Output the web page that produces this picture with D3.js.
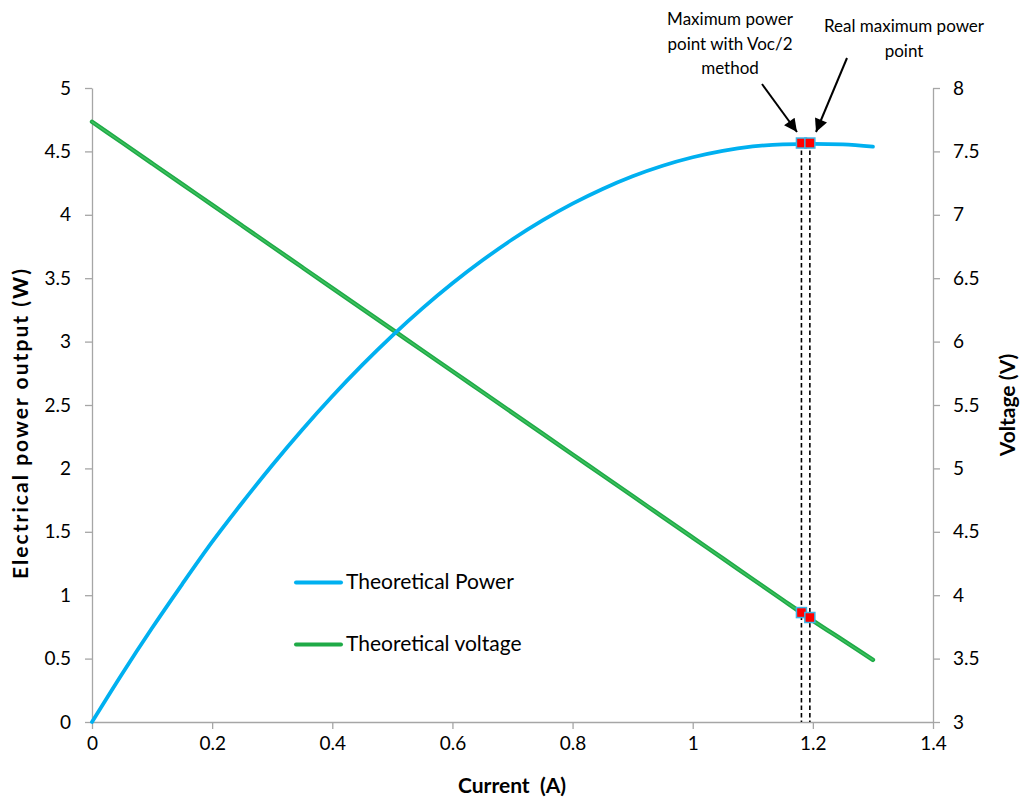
<!DOCTYPE html>
<html>
<head>
<meta charset="utf-8">
<script src="https://cdn.jsdelivr.net/npm/d3@7"></script>
<style>
  html, body { margin: 0; padding: 0; background: #fff; }
  svg { display: block; font-family: Lato, "Open Sans", sans-serif; }
</style>
</head>
<body>
<svg id="chart" width="1022" height="801"></svg>
<script>
// Current (A) sampled along the curve
const current = [0, 0.05, 0.1, 0.15, 0.2, 0.25, 0.3, 0.35, 0.4, 0.45, 0.5, 0.55, 0.6, 0.65,
  0.7, 0.75, 0.8, 0.85, 0.9, 0.95, 1.0, 1.05, 1.1, 1.15, 1.2, 1.25, 1.3];
// Theoretical voltage (V), right axis
const voltage = [7.734, 7.570, 7.406, 7.242, 7.078, 6.914, 6.750, 6.586, 6.422, 6.258, 6.094,
  5.930, 5.766, 5.602, 5.438, 5.274, 5.110, 4.946, 4.782, 4.618, 4.454, 4.290, 4.126, 3.962,
  3.800, 3.645, 3.490];
// Theoretical electrical power (W), left axis
const power = [0, 0.379, 0.741, 1.086, 1.420, 1.729, 2.025, 2.305, 2.569, 2.816, 3.047,
  3.262, 3.460, 3.641, 3.807, 3.956, 4.088, 4.204, 4.304, 4.387, 4.454, 4.505, 4.539, 4.556,
  4.560, 4.556, 4.537];

// Operating points: Voc/2 method and real maximum power point
const mppCurrent = [1.181, 1.195];
const mppPower = [4.566, 4.566];
const mppVoltage = [3.863, 3.824];
const mppLabels = [["Maximum power", "point with Voc/2", "method"], ["Real maximum power", "point"]];

// Tick values
const xTicks = [0, 0.2, 0.4, 0.6, 0.8, 1, 1.2, 1.4];
const leftTicks = [0, 0.5, 1, 1.5, 2, 2.5, 3, 3.5, 4, 4.5, 5];
const rightTicks = [3, 3.5, 4, 4.5, 5, 5.5, 6, 6.5, 7, 7.5, 8];

const seriesNames = ["Theoretical Power", "Theoretical voltage"];
const BLUE = "#00b0f0", GREEN = "#1faa47", GREEN_LIGHT = "#3fc25f", AXIS = "#a6a6a6";

const svg = d3.select("#chart");

const x = d3.scaleLinear().domain([0, 1.4]).range([92, 933]);
const yP = d3.scaleLinear().domain([0, 5]).range([722, 88]);
const yV = d3.scaleLinear().domain([3, 8]).range([722, 88]);

const fmt = d => String(d);

function styleAxis(g) {
  g.selectAll("path.domain").attr("stroke", AXIS).attr("stroke-width", 1.3);
  g.selectAll(".tick line").attr("stroke", AXIS).attr("stroke-width", 1.3);
  g.selectAll(".tick text").attr("fill", "#000").attr("font-size", 19)
    .attr("font-family", "Lato, 'Open Sans', sans-serif");
}

svg.append("g").attr("transform", "translate(0,722)")
  .call(d3.axisBottom(x).tickValues(xTicks).tickFormat(fmt).tickSize(7).tickSizeOuter(0).tickPadding(8))
  .call(styleAxis);

svg.append("g").attr("transform", "translate(92,0)")
  .call(d3.axisLeft(yP).tickValues(leftTicks).tickFormat(fmt).tickSize(7).tickSizeOuter(0).tickPadding(14))
  .call(styleAxis);

svg.append("g").attr("transform", "translate(933,0)")
  .call(d3.axisRight(yV).tickValues(rightTicks).tickFormat(fmt).tickSize(7).tickSizeOuter(0).tickPadding(13))
  .call(styleAxis);

// Axis titles
svg.append("text").attr("x", 512).attr("y", 793).attr("text-anchor", "middle")
  .attr("font-size", 21).attr("font-weight", "bold").attr("xml:space", "preserve")
  .text("Current  (A)");
svg.append("text").attr("transform", "translate(28,424) rotate(-90)")
  .attr("text-anchor", "middle").attr("font-size", 21).attr("font-weight", "bold")
  .attr("textLength", 310).attr("lengthAdjust", "spacing")
  .text("Electrical power output (W)");
svg.append("text").attr("transform", "translate(1015,405) rotate(-90)")
  .attr("text-anchor", "middle").attr("font-size", 21).attr("font-weight", "bold")
  .text("Voltage (V)");

// Series lines
const rows = current.map((c, i) => ({ c, v: voltage[i], p: power[i] }));
const vLine = d3.line().curve(d3.curveMonotoneX).x(d => x(d.c)).y(d => yV(d.v));
svg.append("path").datum(rows)
  .attr("fill", "none").attr("stroke", GREEN).attr("stroke-width", 4.4)
  .attr("stroke-linejoin", "round").attr("stroke-linecap", "round")
  .attr("d", vLine);
svg.append("path").datum(rows)
  .attr("fill", "none").attr("stroke", GREEN_LIGHT).attr("stroke-width", 1.4)
  .attr("stroke-linejoin", "round").attr("stroke-linecap", "round")
  .attr("d", vLine);
svg.append("path").datum(rows)
  .attr("fill", "none").attr("stroke", BLUE).attr("stroke-width", 3.8)
  .attr("stroke-linejoin", "round").attr("stroke-linecap", "round")
  .attr("d", d3.line().curve(d3.curveMonotoneX).x(d => x(d.c)).y(d => yP(d.p)));

// Dashed guides from the power points down to the current axis
svg.append("g").selectAll("line").data(mppCurrent).join("line")
  .attr("x1", d => x(d)).attr("x2", d => x(d))
  .attr("y1", (d, i) => yP(mppPower[i])).attr("y2", yP(0))
  .attr("stroke", "#000").attr("stroke-width", 1.6).attr("stroke-dasharray", "4.5,3");

// Square markers on both curves
const marks = mppCurrent.flatMap((c, i) => [
  { cx: x(c), cy: yP(mppPower[i]) },
  { cx: x(c), cy: yV(mppVoltage[i]) }
]);
svg.append("g").selectAll("rect").data(marks).join("rect")
  .attr("x", d => d.cx - 5).attr("y", d => d.cy - 5)
  .attr("width", 10).attr("height", 10)
  .attr("fill", "#ff0000").attr("stroke", "#3cb4e6").attr("stroke-width", 1.5);

// Annotations with arrows
const defs = svg.append("defs");
defs.append("marker").attr("id", "arrowhead").attr("viewBox", "0 0 10 10")
  .attr("refX", 10).attr("refY", 5).attr("markerWidth", 7.5).attr("markerHeight", 6.5)
  .attr("markerUnits", "strokeWidth").attr("orient", "auto")
  .append("path").attr("d", "M0,0 L10,5 L0,10 Z").attr("fill", "#000");

const notes = [
  { lines: mppLabels[0], tx: 730, ty: 25, from: [762, 84], to: [797, 132] },
  { lines: mppLabels[1], tx: 904, ty: 32, from: [847, 58], to: [816, 132] }
];
notes.forEach(n => {
  const t = svg.append("text").attr("text-anchor", "middle").attr("font-size", 17).attr("fill", "#000");
  n.lines.forEach((l, k) => t.append("tspan").attr("x", n.tx).attr("y", n.ty + k * 24.5).text(l));
  svg.append("line").attr("x1", n.from[0]).attr("y1", n.from[1])
    .attr("x2", n.to[0]).attr("y2", n.to[1])
    .attr("stroke", "#000").attr("stroke-width", 2).attr("marker-end", "url(#arrowhead)");
});

// Legend
const legend = svg.append("g");
[[BLUE, 582.5, 588.5], [GREEN, 644.5, 650.5]].forEach(([col, ly, ty], i) => {
  legend.append("line").attr("x1", 296).attr("x2", 341).attr("y1", ly).attr("y2", ly)
    .attr("stroke", col).attr("stroke-width", 4).attr("stroke-linecap", "round");
  legend.append("text").attr("x", 346).attr("y", ty).attr("font-size", 21).attr("fill", "#000")
    .text(seriesNames[i]);
});
</script>
</body>
</html>
